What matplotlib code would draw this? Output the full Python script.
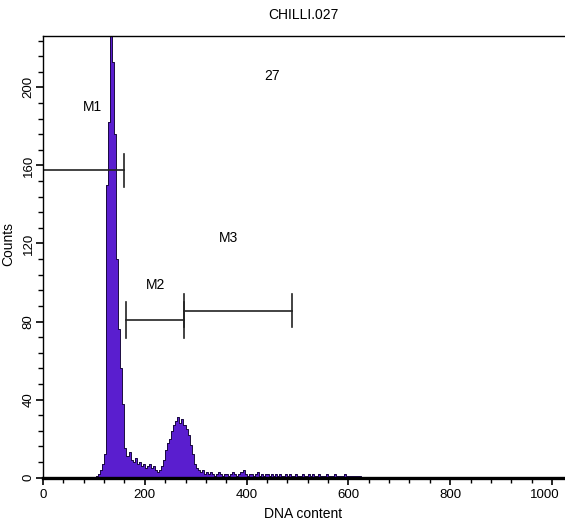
import numpy as np
import matplotlib
matplotlib.use("Agg")
import matplotlib.pyplot as plt
from matplotlib.ticker import MultipleLocator
from matplotlib.transforms import ScaledTranslation

plt.rcParams['font.family'] = ['Liberation Sans Narrow', 'Liberation Sans', 'DejaVu Sans']

# histogram counts, 4-channel bins starting at channel 96 (all other channels are 0)
bin_start = 96
bin_width = 4
counts = [
    0, 0, 1, 2, 4, 7, 12, 150, 182, 240, 213, 176, 112, 76, 56, 38,
    15, 11, 13, 9, 8, 10, 7, 8, 6, 7, 5, 6, 7, 5, 6, 4,
    3, 4, 6, 9, 14, 18, 20, 24, 27, 29, 31, 28, 30, 27, 25, 22,
    17, 12, 7, 5, 4, 3, 4, 2, 3, 2, 3, 2, 1, 2, 3, 2,
    1, 2, 2, 1, 2, 3, 2, 1, 2, 3, 4, 2, 1, 2, 2, 1,
    2, 3, 1, 2, 1, 2, 2, 1, 2, 1, 2, 1, 2, 1, 1, 2,
    1, 2, 1, 1, 2, 1, 1, 2, 1, 1, 2, 1, 2, 1, 1, 2,
    1, 1, 1, 2, 1, 1, 1, 2, 1, 1, 1, 1, 2, 1, 1, 1,
    1, 1, 1, 1, 0,
]

# marker regions: name, left channel, right channel, level, label x, label y
marker_names = ['M1', 'M2', 'M3']
marker_left = [0, 163, 277]
marker_right = [159, 277, 489]
marker_level = [157.6, 81, 85.5]
marker_cap = [8.5, 9.2, 8.5]
label_x = [98, 222, 365]
label_y = [190, 98.6, 122.7]

title = 'CHILLI.027'
note = '27'
xticks = [0, 200, 400, 600, 800, 1000]
yticks = [0, 40, 80, 120, 160, 200]

edges = bin_start + bin_width * np.arange(len(counts) + 1)
xs = np.concatenate(([0], edges, [1023]))
ys = np.concatenate(([0], counts, [0, 0]))

fig = plt.figure(figsize=(5.65, 5.30), dpi=100)
ax = fig.add_axes([0.0761, 0.0987, 0.9216, 0.8333])

ax.fill_between(xs, ys, step='post', color='#5a1ecf', linewidth=0)
ax.step(xs, ys, where='post', color='#1a0a40', linewidth=0.7)

for i in range(len(marker_names)):
    l, r, y, c = marker_left[i], marker_right[i], marker_level[i], marker_cap[i]
    ax.plot([l, r], [y, y], color='#222222', linewidth=1.2)
    ax.plot([l, l], [y - c, y + c], color='#222222', linewidth=1.2)
    ax.plot([r, r], [y - c, y + c], color='#222222', linewidth=1.2)
    ax.text(label_x[i], label_y[i], marker_names[i], ha='center', va='center', fontsize=10)

ax.text(450, 206, note, ha='center', va='center', fontsize=10)

ax.set_xlim(0, 1023)
ax.set_ylim(0, 226.3)
ax.set_xticks(xticks)
ax.set_yticks(yticks)
ax.xaxis.set_minor_locator(MultipleLocator(40))
ax.yaxis.set_minor_locator(MultipleLocator(8))
ax.tick_params(axis='both', which='major', direction='out', length=5, width=1.2, labelsize=9.5)
ax.tick_params(axis='both', which='minor', direction='out', length=3.5, width=1.0)
ax.tick_params(axis='y', which='major', pad=1)
for lab in ax.get_yticklabels():
    lab.set_rotation(90)
    lab.set_va('center')

fig.canvas.draw()
for lab in ax.get_xticklabels():
    if lab.get_text() == '1000':
        lab.set_transform(lab.get_transform() + ScaledTranslation(-5 / 72, 0, fig.dpi_scale_trans))

ax.spines['bottom'].set_linewidth(2.4)
ax.spines['left'].set_linewidth(1.0)
ax.spines['top'].set_linewidth(1.0)
ax.spines['right'].set_visible(False)

ax.set_title(title, fontsize=10, pad=12)
ax.set_xlabel('DNA content', fontsize=10, labelpad=4)
ax.set_ylabel('Counts', fontsize=10)
ax.yaxis.set_label_coords(-0.054, 0.53)

fig.savefig('out.png', dpi=100)
